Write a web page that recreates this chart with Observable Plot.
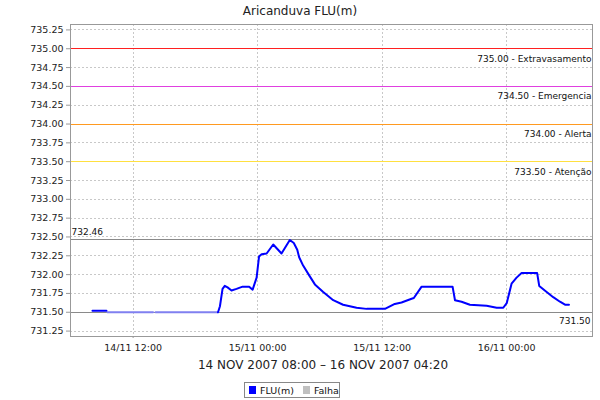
<!DOCTYPE html>
<html>
<head>
<meta charset="utf-8">
<script src="https://cdn.jsdelivr.net/npm/d3@7"></script>
<script src="https://cdn.jsdelivr.net/npm/@observablehq/plot@0.6"></script>
<style>
  body { margin: 0; background: #fff; font-family: "DejaVu Sans", sans-serif; }
  #wrap { position: relative; width: 600px; height: 400px; }
  #title { height: 22px; line-height: 22px; text-align: center; font-size: 12px; color: #222; }
  #caption { height: 16px; line-height: 16px; text-align: center; font-size: 12px; color: #222; padding-left: 46px; box-sizing: border-box; }
  #legend { position: absolute; left: 244px; top: 382px; width: 94px; height: 14px; border: 1px solid #888; font-size: 9.5px; color: #111; display: flex; align-items: center; }
  .sw { display: inline-block; width: 7px; height: 8px; margin: 0 4px 0 4px; }
</style>
</head>
<body>
<div id="wrap">
  <div id="title">Aricanduva FLU(m)</div>
  <div id="chart"></div>
  <div id="caption">14 NOV 2007 08:00 – 16 NOV 2007 04:20</div>
  <div id="legend"><span class="sw" style="background:#0000ff"></span>FLU(m)<span class="sw" style="background:#c0c0c0;margin-left:9px"></span>Falha</div>
</div>
<script>
// ---- data ----
const fluTimes = [
  "2007-11-14T08:05","2007-11-14T09:26","2007-11-14T14:00",
  "2007-11-14T20:11","2007-11-14T20:22","2007-11-14T20:37","2007-11-14T20:50","2007-11-14T21:06",
  "2007-11-14T21:29","2007-11-14T21:58","2007-11-14T22:33","2007-11-14T23:11","2007-11-14T23:31",
  "2007-11-14T23:54","2007-11-15T00:08","2007-11-15T00:23","2007-11-15T00:52","2007-11-15T01:30",
  "2007-11-15T02:18","2007-11-15T03:06","2007-11-15T03:29","2007-11-15T03:49","2007-11-15T04:00",
  "2007-11-15T04:23","2007-11-15T04:58","2007-11-15T05:31","2007-11-15T06:19","2007-11-15T07:17",
  "2007-11-15T08:14","2007-11-15T09:32","2007-11-15T10:30","2007-11-15T12:16","2007-11-15T13:13",
  "2007-11-15T13:52","2007-11-15T14:50","2007-11-15T15:03","2007-11-15T15:48","2007-11-15T18:47",
  "2007-11-15T19:01","2007-11-15T19:39","2007-11-15T20:27","2007-11-15T22:04","2007-11-15T23:02",
  "2007-11-15T23:40","2007-11-16T00:00","2007-11-16T00:28","2007-11-16T00:57","2007-11-16T01:26",
  "2007-11-16T02:56","2007-11-16T03:08","2007-11-16T03:51","2007-11-16T04:29","2007-11-16T05:08",
  "2007-11-16T05:37","2007-11-16T06:00"
];
const fluValues = [
  731.52, 731.52, null,
  731.50, 731.58, 731.81, 731.85, 731.83,
  731.79, 731.81, 731.84, 731.84, 731.80,
  731.96, 732.24, 732.27, 732.28, 732.40,
  732.28, 732.46, 732.42, 732.33, 732.23,
  732.12, 731.99, 731.87, 731.77, 731.66,
  731.60, 731.56, 731.545, 731.545, 731.61,
  731.63, 731.68, 731.69, 731.84, 731.84,
  731.66, 731.64, 731.60, 731.585, 731.56,
  731.56, 731.62, 731.88, 731.96, 732.02,
  732.02, 731.85, 731.77, 731.70, 731.64,
  731.60, 731.60
];
const falhaTimes = ["2007-11-14T09:32","2007-11-14T13:55","2007-11-14T14:02","2007-11-14T14:10","2007-11-14T20:11"];
const falhaValues = [731.50, 731.50, null, 731.50, 731.50];

const thresholdValues = [735.00, 734.50, 734.00, 733.50];
const thresholdLabels = ["735.00 - Extravasamento", "734.50 - Emergencia", "734.00 - Alerta", "733.50 - Atenção"];
const thresholdColors = ["#ff2020", "#e040e0", "#ff9a20", "#ffe040"];

const maxValue = 732.46;
const minValue = 731.50;

const yTicks = [731.25, 731.50, 731.75, 732.00, 732.25, 732.50, 732.75, 733.00, 733.25, 733.50, 733.75, 734.00, 734.25, 734.50, 734.75, 735.00, 735.25];
const xTicks = ["2007-11-14T12:00", "2007-11-15T00:00", "2007-11-15T12:00", "2007-11-16T00:00"];
const xDomain = ["2007-11-14T05:58", "2007-11-16T08:16"];
const yDomain = [731.178, 735.322];

// ---- build ----
const toDate = s => new Date(s + ":00Z");
const flu = fluTimes.map((t, i) => ({t: toDate(t), v: fluValues[i]}));
const falha = falhaTimes.map((t, i) => ({t: toDate(t), v: falhaValues[i]}));
const thresholds = thresholdValues.map((v, i) => ({v, label: thresholdLabels[i], color: thresholdColors[i]}));
const xEnd = toDate(xDomain[1]);
const xStart = toDate(xDomain[0]);
const pad = n => String(n).padStart(2, "0");
const fmtX = d => `${pad(d.getUTCDate())}/${pad(d.getUTCMonth() + 1)} ${pad(d.getUTCHours())}:${pad(d.getUTCMinutes())}`;

const chart = Plot.plot({
  width: 600,
  height: 335,
  marginLeft: 70,
  marginRight: 8,
  marginTop: 2,
  marginBottom: 21,
  style: {fontFamily: "DejaVu Sans, sans-serif", fontSize: "9.5px", color: "#222", background: "#fff"},
  x: {type: "utc", domain: xDomain.map(toDate)},
  y: {domain: yDomain},
  marks: [
    Plot.gridY(yTicks.filter(v => !thresholdValues.includes(v)), {stroke: "#c8c8c8", strokeOpacity: 1, strokeDasharray: "2,2", shapeRendering: "crispEdges"}),
    Plot.gridX(xTicks.map(toDate), {stroke: "#c8c8c8", strokeOpacity: 1, strokeDasharray: "2,2", shapeRendering: "crispEdges"}),
    Plot.ruleY(thresholds, {y: "v", stroke: "color", strokeWidth: 1, shapeRendering: "crispEdges"}),
    Plot.ruleY([maxValue, minValue], {stroke: "#8a8a8a", strokeWidth: 1, shapeRendering: "crispEdges"}),
    Plot.text(thresholds, {x: xEnd, y: "v", text: "label", textAnchor: "end", dx: -1, dy: 10, fontSize: 9, fill: "#111"}),
    Plot.text([maxValue], {x: xStart, y: d => d, text: d => d.toFixed(2), textAnchor: "start", dx: 1, dy: -8, fontSize: 9, fill: "#111"}),
    Plot.text([minValue], {x: xEnd, y: d => d, text: d => d.toFixed(2), textAnchor: "end", dx: -2, dy: 9, fontSize: 9, fill: "#111"}),
    Plot.line(falha, {x: "t", y: "v", stroke: "#8080f0", strokeWidth: 2.2}),
    Plot.line(flu, {x: "t", y: "v", stroke: "#0000ff", strokeWidth: 2, curve: "linear"}),
    Plot.frame({stroke: "#999", shapeRendering: "crispEdges"}),
    Plot.axisY({ticks: yTicks, tickFormat: d => d.toFixed(2), tickSize: 4, tickPadding: 3, stroke: "#999", fill: "#222", label: null}),
    Plot.axisX({ticks: xTicks.map(toDate), tickFormat: fmtX, tickSize: 2, tickPadding: 6, stroke: "#999", fill: "#222", label: null})
  ]
});
document.getElementById("chart").appendChild(chart);
</script>
</body>
</html>
